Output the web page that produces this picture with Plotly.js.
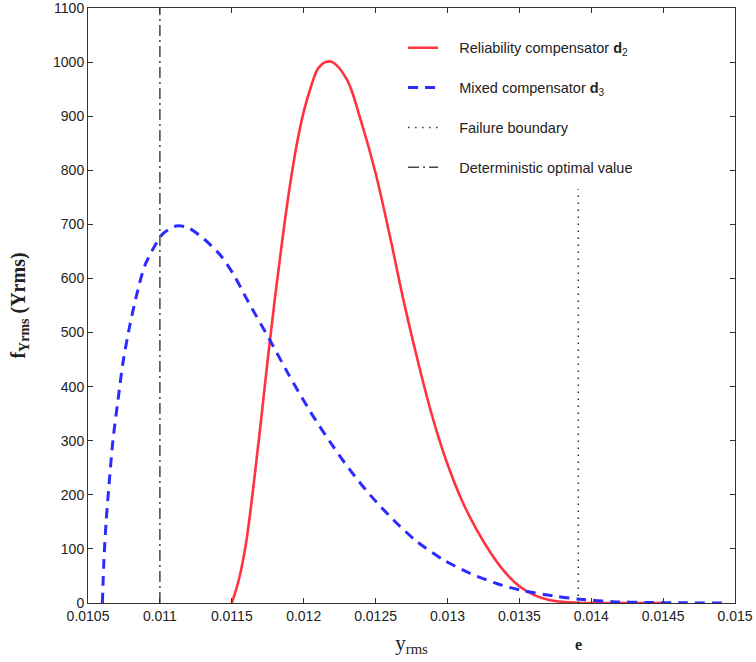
<!DOCTYPE html>
<html>
<head>
<meta charset="utf-8">
<script src="https://cdn.plot.ly/plotly-3.0.1.min.js"></script>
<style>html,body{margin:0;padding:0;background:#fff;}#chart{width:756px;height:662px;}</style>
</head>
<body>
<div id="chart"></div>
<script>
// Reliability compensator d2
const redX = [0.0115, 0.01155, 0.0116, 0.01165, 0.0117, 0.01175, 0.0118, 0.01185, 0.0119, 0.01195, 0.012, 0.01205, 0.0121, 0.01215, 0.0122, 0.0123, 0.0124, 0.0125, 0.0126, 0.0127, 0.0128, 0.0129, 0.013, 0.0131, 0.0132, 0.0133, 0.0134, 0.0135, 0.0136, 0.0137, 0.0138, 0.0139, 0.014, 0.0145];
const redY = [0, 44, 112, 214, 329, 450, 563, 668, 764, 845, 908, 954, 988, 1000, 1000, 968, 890, 795, 678, 553, 441, 340, 257, 190, 137, 93, 57, 31, 15, 6, 2, 0.5, 0, 0];
// Mixed compensator d3
const blueX = [0.0106, 0.010611, 0.010627, 0.010651, 0.010674, 0.010709, 0.010743, 0.01079, 0.010836, 0.010894, 0.010964, 0.011022, 0.011114, 0.011195, 0.011311, 0.011427, 0.01152, 0.011608, 0.011763, 0.01189, 0.01205, 0.012206, 0.012322, 0.012461, 0.012623, 0.012786, 0.012971, 0.013156, 0.013342, 0.013504, 0.01376, 0.01392, 0.01415, 0.01439, 0.01465, 0.01495];
const blueY = [0, 80, 154, 234, 302, 376, 444, 512, 567, 623, 660, 683, 697, 694, 672, 641, 604, 560, 487, 425, 352, 289, 246, 200, 154, 114, 80, 55, 36, 24, 12, 7, 2.5, 1, 0.3, 0];
// Failure boundary
const failX = [0.01391, 0.01391];
const failY = [0, 765];
// Deterministic optimal value
const detX = [0.011, 0.011];
const detY = [0, 1100];
// Ticks
const xTickVals = [0.0105, 0.011, 0.0115, 0.012, 0.0125, 0.013, 0.0135, 0.014, 0.0145, 0.015];
const xTickText = ["0.0105", "0.011", "0.0115", "0.012", "0.0125", "0.013", "0.0135", "0.014", "0.0145", "0.015"];
const yTickVals = [0, 100, 200, 300, 400, 500, 600, 700, 800, 900, 1000, 1100];
const yTickText = ["0", "100", "200", "300", "400", "500", "600", "700", "800", "900", "1000", "1100"];
const seriesNames = ["Reliability compensator <b>d</b><sub>2</sub>", "Mixed compensator <b>d</b><sub>3</sub>", "Failure boundary", "Deterministic optimal value"];

const pad = '&nbsp;&nbsp;&nbsp;&nbsp;';
const traces = [
  {x: redX, y: redY, name: pad + seriesNames[0], mode: 'lines', legendgroup: 'a',
   line: {color: '#ff3340', width: 2.6, shape: 'spline', smoothing: 1}},
  {x: blueX, y: blueY, name: pad + seriesNames[1], mode: 'lines', legendgroup: 'b',
   line: {color: '#2b2bff', width: 3, dash: '10px,7px', shape: 'spline', smoothing: 0.8}},
  {x: failX, y: failY, name: pad + seriesNames[2], mode: 'lines', legendgroup: 'c',
   line: {color: '#333333', width: 1.5, dash: '1.5px,5.5px'}},
  {x: detX, y: detY, name: pad + seriesNames[3], mode: 'lines', legendgroup: 'd',
   line: {color: '#444444', width: 1.5, dash: '11px,4px,2px,4px'}}
];

const axisCommon = {
  showgrid: false, zeroline: false, showline: true, linecolor: '#333', linewidth: 1,
  mirror: 'ticks', ticks: 'inside', ticklen: 5, tickcolor: '#333',
  ticklabeloverflow: 'allow',
  tickfont: {family: 'Liberation Sans, Arial, sans-serif', size: 14, color: '#222'}
};

const layout = {
  width: 756, height: 662,
  margin: {l: 88, r: 21, t: 8, b: 59},
  paper_bgcolor: '#fff', plot_bgcolor: '#fff',
  showlegend: true,
  legend: {x: 0.487, y: 0.96, xanchor: 'left', yanchor: 'top', bgcolor: 'rgba(0,0,0,0)',
    traceorder: 'grouped', tracegroupgap: 18,
    font: {family: 'Liberation Sans, Arial, sans-serif', size: 14.5, color: '#222'}},
  xaxis: Object.assign({}, axisCommon, {
    range: [0.0105, 0.015], tickvals: xTickVals, ticktext: xTickText,
    title: {text: 'y<sub>rms</sub>', standoff: 12,
      font: {family: 'Liberation Serif, Times New Roman, serif', size: 21, color: '#222'}}
  }),
  yaxis: Object.assign({}, axisCommon, {
    range: [-0.01, 1100.01], tickvals: yTickVals, ticktext: yTickText,
    title: {text: '<b>f<sub>Yrms</sub> (Yrms)</b>', standoff: 22,
      font: {family: 'Liberation Serif, Times New Roman, serif', size: 20, color: '#222'}}
  }),
  annotations: [
    {text: '<b>e</b>', xref: 'x', yref: 'paper', x: 0.01391, y: 0, yshift: -52, showarrow: false,
     font: {family: 'Liberation Serif, Times New Roman, serif', size: 16, color: '#222'}}
  ]
};

Plotly.newPlot('chart', traces, layout, {displayModeBar: false, staticPlot: true});
</script>
</body>
</html>
